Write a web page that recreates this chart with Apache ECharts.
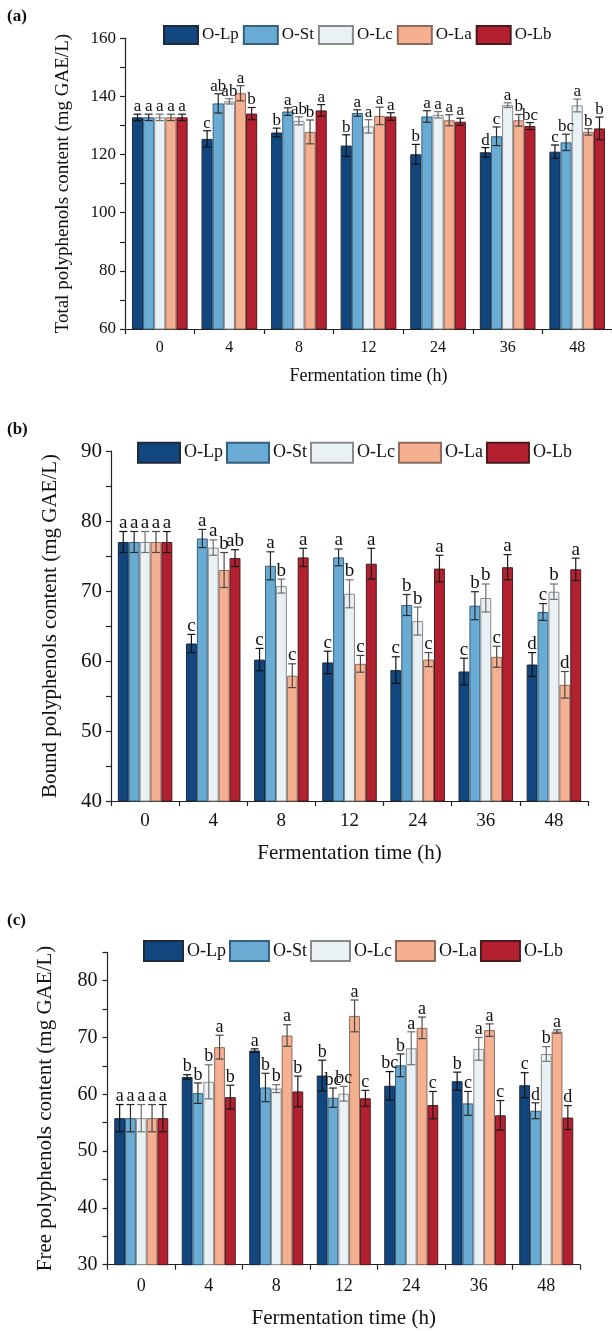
<!DOCTYPE html>
<html>
<head>
<meta charset="utf-8">
<script src="https://cdn.jsdelivr.net/npm/echarts@6/dist/echarts.min.js"></script>
<style>
html,body{margin:0;padding:0;background:#fff;}
#chart{width:612px;height:1331px;}
</style>
</head>
<body>
<div id="chart"></div>
<script>
// ---------- data ----------
const categories = ['0','4','8','12','24','36','48'];
const seriesNames = ['O-Lp','O-St','O-Lc','O-La','O-Lb'];

// (a) Total polyphenols
const totalLp = [132.8,125.4,127.6,123.1,120.1,120.8,121.0];
const totalSt = [132.8,137.6,134.8,134.3,133.1,126.3,124.2];
const totalLc = [132.8,138.3,131.6,129.7,133.7,137.0,136.9];
const totalLa = [132.8,141.1,127.8,133.3,131.8,131.8,127.8];
const totalLb = [132.8,134.1,135.2,133.1,131.3,129.8,129.0];
const totalLpErr = [1.1,2.8,1.5,3.7,3.4,1.6,2.3];
const totalStErr = [1.1,3.3,1.3,1.1,2.0,3.2,2.8];
const totalLcErr = [1.1,0.9,1.4,2.3,1.1,0.8,2.2];
const totalLaErr = [1.1,2.6,4.1,3.0,1.9,2.0,1.1];
const totalLbErr = [1.1,2.1,2.0,1.3,1.2,1.2,3.9];
const totalLpSig = ['a','c','b','b','b','d','c'];
const totalStSig = ['a','ab','a','a','a','c','bc'];
const totalLcSig = ['a','ab','ab','a','a','a','a'];
const totalLaSig = ['a','a','b','a','a','b','b'];
const totalLbSig = ['a','b','a','a','a','bc','b'];

// (b) Bound polyphenols
const boundLp = [77.0,62.5,60.2,59.8,58.7,58.5,59.5];
const boundSt = [77.0,77.5,73.6,74.8,68.0,67.9,67.0];
const boundLc = [77.0,76.2,70.7,69.6,65.7,69.0,69.9];
const boundLa = [77.0,73.0,57.9,59.6,60.2,60.6,56.6];
const boundLb = [77.0,74.7,74.8,73.9,73.2,73.4,73.1];
const boundLpErr = [1.5,1.3,1.6,1.6,1.9,1.9,1.7];
const boundStErr = [1.5,1.3,2.0,1.2,1.5,2.0,1.2];
const boundLcErr = [1.5,1.1,1.0,2.0,2.0,2.0,1.1];
const boundLaErr = [1.5,2.5,1.7,1.2,1.0,1.5,1.9];
const boundLbErr = [1.5,1.2,1.3,2.2,1.9,1.8,1.6];
const boundLpSig = ['a','c','c','c','c','c','d'];
const boundStSig = ['a','a','a','a','b','b','c'];
const boundLcSig = ['a','a','b','b','b','b','b'];
const boundLaSig = ['a','b','c','c','c','c','d'];
const boundLbSig = ['a','ab','a','a','a','a','a'];

// (c) Free polyphenols
const freeLp = [55.8,63.05,67.7,63.3,61.5,62.3,61.6];
const freeSt = [55.8,60.2,61.2,59.4,65.1,58.4,57.1];
const freeLc = [55.8,62.2,61.0,60.1,68.1,68.0,67.1];
const freeLa = [55.8,68.3,70.35,73.8,71.7,71.3,71.05];
const freeLb = [55.8,59.5,60.5,59.3,58.1,56.3,55.9];
const freeLpErr = [2.4,0.4,0.3,2.7,2.5,1.6,2.2];
const freeStErr = [2.4,1.8,2.5,1.7,2.0,2.1,1.4];
const freeLcErr = [2.4,3.0,0.7,1.3,2.9,2.0,1.3];
const freeLaErr = [2.4,2.1,1.9,2.8,1.9,1.1,0.3];
const freeLbErr = [2.4,2.1,2.7,1.4,2.4,2.6,2.1];
const freeLpSig = ['a','b','a','b','bc','b','c'];
const freeStSig = ['a','b','b','bc','b','c','d'];
const freeLcSig = ['a','b','b','bc','a','a','b'];
const freeLaSig = ['a','a','a','a','a','a','a'];
const freeLbSig = ['a','b','b','c','c','c','d'];

// ---------- styling ----------
const FONT = '"Liberation Serif", "Times New Roman", serif';
const fillColors = ['#11467f','#6aabd3','#e9f1f5','#f4b090','#b3202f'];
const borderColors = ['#1e2a3a','#35607e','#8a8a8a','#8c6a5c','#4a1a1f'];
const errColors = ['#111','#2a2a2a','#6f6f6f','#4a4a4a','#1a1a1a'];

const panels = [
  {vals:[totalLp,totalSt,totalLc,totalLa,totalLb],
   errs:[totalLpErr,totalStErr,totalLcErr,totalLaErr,totalLbErr],
   sigs:[totalLpSig,totalStSig,totalLcSig,totalLaSig,totalLbSig],
   grid:{left:125,top:38.3,width:490.7,height:290.7},
   y:{min:60,max:160,interval:10,labelEvery:20,name:'Total polyphenols content (mg GAE/L)'},
   yLabelSize:17,xLabelSize:16,nameSizeY:19,nameSizeX:18,yNameGap:52,xNameGap:38,
   yMargin:9,xMargin:11,sigSize:17,
   legend:{left:163,top:25,itemWidth:34,itemHeight:18,fontSize:17,itemGap:4}},
  {vals:[boundLp,boundSt,boundLc,boundLa,boundLb],
   errs:[boundLpErr,boundStErr,boundLcErr,boundLaErr,boundLbErr],
   sigs:[boundLpSig,boundStSig,boundLcSig,boundLaSig,boundLbSig],
   grid:{left:111,top:451,width:477,height:350},
   y:{min:40,max:90,interval:5,labelEvery:10,name:'Bound polyphenols content (mg GAE/L)'},
   yLabelSize:21,xLabelSize:19,nameSizeY:21,nameSizeX:21,yNameGap:50,xNameGap:42,
   yMargin:9,xMargin:11,sigSize:19,
   legend:{left:137,top:441.7,itemWidth:42,itemHeight:20,fontSize:18,itemGap:3}},
  {vals:[freeLp,freeSt,freeLc,freeLa,freeLb],
   errs:[freeLpErr,freeStErr,freeLcErr,freeLaErr,freeLbErr],
   sigs:[freeLpSig,freeStSig,freeLcSig,freeLaSig,freeLbSig],
   grid:{left:107.5,top:952.3,width:472.5,height:312.4},
   y:{min:30,max:85,interval:5,labelEvery:10,name:'Free polyphenols content (mg GAE/L)'},
   yLabelSize:20,xLabelSize:18,nameSizeY:21,nameSizeX:21,yNameGap:52,xNameGap:43,
   yMargin:10,xMargin:13,sigSize:18,
   legend:{left:143,top:940,itemWidth:39,itemHeight:20,fontSize:18,itemGap:3}}
];

const axisLineStyle = {color:'#222', width:1.2};
const grids = [], xAxes = [], yAxes = [], legends = [], series = [];

panels.forEach((p, gi) => {
  grids.push(Object.assign({containLabel:false}, p.grid));
  xAxes.push({
    type:'category', gridIndex:gi, data:categories,
    axisLine:{lineStyle:axisLineStyle},
    axisTick:{show:true, length:5, lineStyle:axisLineStyle},
    axisLabel:{fontFamily:FONT, fontSize:p.xLabelSize, color:'#111', margin:p.xMargin},
    name:'Fermentation time (h)', nameLocation:'middle', nameGap:p.xNameGap,
    nameTextStyle:{fontFamily:FONT, fontSize:p.nameSizeX, color:'#111'},
    splitLine:{show:false}
  });
  const every = p.y.labelEvery;
  yAxes.push({
    type:'value', gridIndex:gi, min:p.y.min, max:p.y.max, interval:p.y.interval,
    axisLine:{show:true, lineStyle:axisLineStyle},
    axisTick:{show:true, length:5, lineStyle:axisLineStyle},
    axisLabel:{fontFamily:FONT, fontSize:p.yLabelSize, color:'#111', margin:p.yMargin,
      showMaxLabel:true,
      formatter:function(v){ return (Math.round(v) % every === 0) ? String(v) : ''; }},
    splitLine:{show:false},
    name:p.y.name, nameLocation:'middle', nameGap:p.yNameGap, nameRotate:90,
    nameTextStyle:{fontFamily:FONT, fontSize:p.nameSizeY, color:'#111'}
  });
  legends.push({
    data:seriesNames, left:p.legend.left, top:p.legend.top, orient:'horizontal', padding:0,
    icon:'rect', itemWidth:p.legend.itemWidth, itemHeight:p.legend.itemHeight,
    itemGap:p.legend.itemGap, selectedMode:false,
    textStyle:{fontFamily:FONT, fontSize:p.legend.fontSize, color:'#111', padding:[0,0,0,-1]}
  });
  p.vals.forEach((vals, k) => {
    series.push({
      type:'bar', name:seriesNames[k], xAxisIndex:gi, yAxisIndex:gi,
      data:vals, barGap:'0%', barCategoryGap:'20%',
      itemStyle:{color:fillColors[k], borderColor:borderColors[k], borderWidth:1},
      z:2
    });
  });
  p.vals.forEach((vals, k) => {
    const errs = p.errs[k], sigs = p.sigs[k];
    series.push({
      type:'custom', xAxisIndex:gi, yAxisIndex:gi, silent:true, z:10,
      data:vals.map((v, i) => [i, v]),
      encode:{x:0, y:1},
      renderItem:function(params, api){
        const idx = params.dataIndex;
        const i = api.value(0), v = api.value(1), e = errs[idx];
        const band = api.size([1, 0])[0];
        const off = (k - 2) * 0.16 * band;
        const x = api.coord([i, v])[0] + off;
        const yTop = api.coord([i, v + e])[1];
        const yBot = api.coord([i, v - e])[1];
        const cap = 4;
        const st = {stroke:errColors[k], lineWidth:1.2};
        return {type:'group', children:[
          {type:'line', shape:{x1:x, y1:yTop, x2:x, y2:yBot}, style:st},
          {type:'line', shape:{x1:x-cap, y1:yTop, x2:x+cap, y2:yTop}, style:st},
          {type:'line', shape:{x1:x-cap, y1:yBot, x2:x+cap, y2:yBot}, style:st},
          {type:'text', style:{text:sigs[idx], x:x, y:yTop + 1, align:'center', verticalAlign:'bottom',
            fontFamily:FONT, fontSize:p.sigSize, fill:'#111'}}
        ]};
      }
    });
  });
});

const chart = echarts.init(document.getElementById('chart'), null, {renderer:'canvas'});
chart.setOption({
  animation:false,
  backgroundColor:'#fff',
  grid:grids, xAxis:xAxes, yAxis:yAxes, legend:legends, series:series,
  graphic:[
    {type:'text', left:7, top:8, style:{text:'(a)', fontFamily:FONT, fontSize:17, fontWeight:'bold', fill:'#111'}},
    {type:'text', left:7, top:421, style:{text:'(b)', fontFamily:FONT, fontSize:17, fontWeight:'bold', fill:'#111'}},
    {type:'text', left:7, top:912, style:{text:'(c)', fontFamily:FONT, fontSize:17, fontWeight:'bold', fill:'#111'}}
  ]
});
</script>
</body>
</html>
